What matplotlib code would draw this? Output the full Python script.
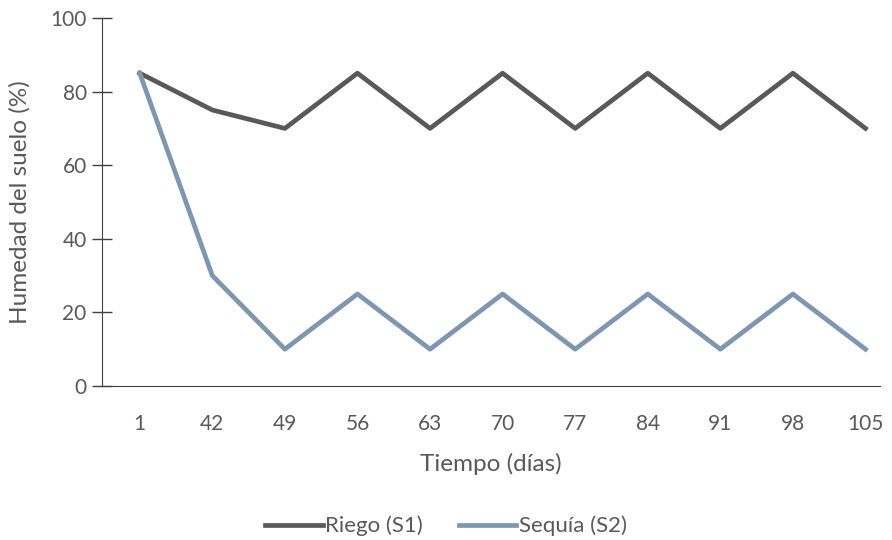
import matplotlib
matplotlib.use('Agg')
import matplotlib.pyplot as plt

plt.rcParams['font.family'] = ['Lato', 'DejaVu Sans']

dias = ['1', '42', '49', '56', '63', '70', '77', '84', '91', '98', '105']
riego = [85, 75, 70, 85, 70, 85, 70, 85, 70, 85, 70]
sequia = [85, 30, 10, 25, 10, 25, 10, 25, 10, 25, 10]

TXT = '#595959'
C_RIEGO = '#595959'
C_SEQUIA = '#7f96b1'

fig = plt.figure(figsize=(8.92, 5.4), dpi=100)
ax = fig.add_axes([102 / 892, 1 - 386 / 540, (880 - 102) / 892, (386 - 18) / 540])

x = list(range(len(dias)))
ax.plot(x, riego, color=C_RIEGO, lw=3.4, label='Riego (S1)', solid_joinstyle='round')
ax.plot(x, sequia, color=C_SEQUIA, lw=3.4, label='Sequía (S2)', solid_joinstyle='round')

ax.set_xlim(-0.52, 10.2)
ax.set_ylim(0, 100)
ax.set_yticks(range(0, 101, 20))
ax.set_xticks(x)
ax.set_xticklabels(dias)

for s in ['top', 'right']:
    ax.spines[s].set_visible(False)
ax.spines['left'].set_color('#404040')
ax.spines['bottom'].set_color('#404040')
ax.tick_params(axis='y', direction='inout', length=14, width=1, color='#404040',
               labelsize=15, labelcolor=TXT, pad=4)
ax.tick_params(axis='x', length=0, labelsize=15, labelcolor=TXT, pad=20)

ax.set_xlabel('Tiempo (días)', fontsize=17.5, color=TXT, labelpad=14)
ax.set_ylabel('Humedad del suelo (%)', fontsize=17.5, color=TXT, labelpad=14)

fig.legend(loc='center', bbox_to_anchor=(0.5, 1 - 526 / 540), ncol=2, frameon=False,
           fontsize=16, labelcolor=TXT, handlelength=2.6, handletextpad=0.1, columnspacing=1.6)

fig.savefig('out.png', dpi=100)
